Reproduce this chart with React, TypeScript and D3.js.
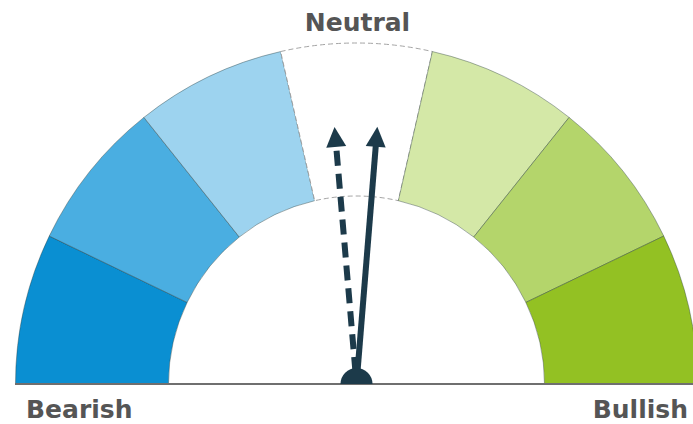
import React from "react";
import * as d3 from "d3";

// Sentiment bands, left (bearish) to right (bullish)
const bands = ["Strong bearish", "Bearish", "Mild bearish", "Neutral", "Mild bullish", "Bullish", "Strong bullish"];
const bandColors = ["#0a8fd2", "#4aaee1", "#9dd3ef", "#ffffff", "#d4e8a7", "#b4d56b", "#93c123"];
// Needle readings on the 0–7 band scale
const currentReading = 3.68;
const previousReading = 3.31;
const labels = { left: "Bearish", top: "Neutral", right: "Bullish" };

const W = 693;
const H = 424;
const cx = 356.5;
const cy = 384;
const outerR = 341;
const innerR = 188;
const needleLen = 258;
const needleStart = 12;

const angle = d3.scaleLinear().domain([0, bands.length]).range([-Math.PI / 2, Math.PI / 2]);

const arcGen = d3.arc<{ i: number }>()
  .innerRadius(innerR)
  .outerRadius(outerR)
  .startAngle((d) => angle(d.i))
  .endAngle((d) => angle(d.i + 1));

function Needle({ value, dashed }: { value: number; dashed: boolean }) {
  const a = angle(value);
  const ux = Math.sin(a);
  const uy = -Math.cos(a);
  const headLen = 20;
  const headHalf = 10;
  const x0 = cx + ux * needleStart;
  const y0 = cy + uy * needleStart;
  const tipX = cx + ux * needleLen;
  const tipY = cy + uy * needleLen;
  const baseX = cx + ux * (needleLen - headLen);
  const baseY = cy + uy * (needleLen - headLen);
  const px = -uy;
  const py = ux;
  const head = `M${tipX},${tipY} L${baseX + px * headHalf},${baseY + py * headHalf} L${baseX - px * headHalf},${baseY - py * headHalf} Z`;
  return (
    <g>
      <line
        x1={x0}
        y1={y0}
        x2={cx + ux * (needleLen - headLen + 1)}
        y2={cy + uy * (needleLen - headLen + 1)}
        stroke="#1c3a4a"
        strokeWidth={6}
        strokeDasharray={dashed ? "15 8" : undefined}
      />
      <path d={head} fill="#1c3a4a" />
    </g>
  );
}

export default function App() {
  const segs = bands.map((_, i) => ({ i }));
  return (
    <div style={{ position: "absolute", left: 0, top: 0 }}>
      <svg width={W} height={H} style={{ display: "block", background: "#ffffff" }}>
        <g transform={`translate(${cx},${cy})`}>
          {segs.map((d) => (
            <path
              key={d.i}
              d={arcGen(d) || ""}
              fill={bandColors[d.i]}
              stroke={bandColors[d.i] === "#ffffff" ? "#9a9a9a" : "rgba(40,60,60,0.45)"}
              strokeWidth={0.9}
              strokeDasharray={bandColors[d.i] === "#ffffff" ? "5 3" : undefined}
            />
          ))}
        </g>
        <line x1={15} x2={W} y1={cy} y2={cy} stroke="#6f6f6f" strokeWidth={2} />
        <Needle value={previousReading} dashed={true} />
        <Needle value={currentReading} dashed={false} />
        <path
          d={d3.arc()({ innerRadius: 0, outerRadius: 16, startAngle: -Math.PI / 2, endAngle: Math.PI / 2 }) || ""}
          transform={`translate(${cx},${cy})`}
          fill="#1c3a4a"
        />
        <g fontFamily="DejaVu Sans" fontWeight="bold" fontSize={25} fill="#555555">
          <text x={26} y={418}>{labels.left}</text>
          <text x={cx + 1} y={31} textAnchor="middle">{labels.top}</text>
          <text x={688} y={418} textAnchor="end">{labels.right}</text>
        </g>
      </svg>
    </div>
  );
}
